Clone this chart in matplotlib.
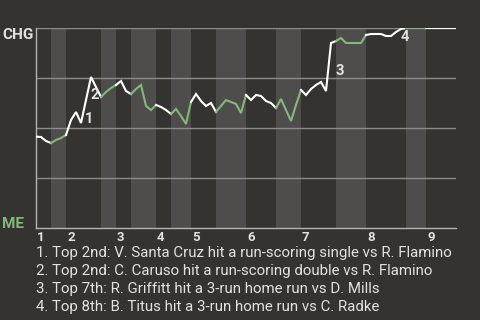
import matplotlib
matplotlib.use("Agg")
import matplotlib.pyplot as plt
import matplotlib.transforms as mtransforms
import numpy as np

plt.rcParams["font.family"] = ["Roboto", "DejaVu Sans"]

START_PROB = 0.457
# CHG win probability after each plate appearance, one list per half inning
top1 = [0.455, 0.435, 0.425]
bot1 = [0.44, 0.45, 0.465]
top2 = [0.54, 0.58, 0.525, 0.64, 0.755, 0.705, 0.655]
bot2 = [0.68, 0.70, 0.715]
top3 = [0.735, 0.685, 0.67]
bot3 = [0.695, 0.715, 0.61, 0.59, 0.615]
top4 = [0.605, 0.59, 0.57]
bot4 = [0.595, 0.56, 0.52, 0.63]
top5 = [0.67, 0.635, 0.61, 0.625, 0.58]
bot5 = [0.61, 0.64, 0.63, 0.62, 0.575, 0.665]
top6 = [0.64, 0.665, 0.66, 0.635, 0.625, 0.60]
bot6 = [0.645, 0.59, 0.535, 0.615, 0.69]
top7 = [0.665, 0.695, 0.715, 0.73, 0.685, 0.925, 0.935]
bot7 = [0.95, 0.925, 0.925, 0.925, 0.925, 0.965]
top8 = [0.97, 0.97, 0.97, 0.96, 0.96, 0.98, 0.995, 1.0]
bot8 = [1.0, 1.0, 1.0, 1.0]
top9 = [1.0, 1.0, 1.0, 1.0, 1.0, 1.0]
half_innings = [top1, bot1, top2, bot2, top3, bot3, top4, bot4, top5,
                bot5, top6, bot6, top7, bot7, top8, bot8, top9]

inning_labels = ["1", "2", "3", "4", "5", "6", "7", "8", "9"]
key_events = [10, 11, 60, 73]  # plate appearance index of each marked play
key_labels = ["1", "2", "3", "4"]
notes = [
    "1. Top 2nd: V. Santa Cruz hit a run-scoring single vs R. Flamino",
    "2. Top 2nd: C. Caruso hit a run-scoring double vs R. Flamino",
    "3. Top 7th: R. Griffitt hit a 3-run home run vs D. Mills",
    "4. Top 8th: B. Titus hit a 3-run home run vs C. Radke",
]

BG = "#353330"
STRIPE = "#4e4d4b"
GREEN = "#84b87b"
TEXT = "#e2e2e2"

sizes = [len(h) for h in half_innings]
bounds = np.concatenate([[0], np.cumsum(sizes)])
probs = np.concatenate([[START_PROB]] + [np.array(h) for h in half_innings])
xs = np.arange(len(probs))

fig = plt.figure(figsize=(4.8, 3.2), dpi=100, facecolor=BG)
ax = fig.add_axes([0.075, 0.2875, 0.875, 0.625])
ax.set_facecolor(BG)

for i in range(len(half_innings)):
    a, b = bounds[i], bounds[i + 1]
    if i % 2 == 1:
        ax.axvspan(a, b, color=STRIPE, lw=0, zorder=0)
    color = "white" if i % 2 == 0 else GREEN
    ax.plot(xs[a:b + 1], probs[a:b + 1], color=color, lw=1.5,
            solid_joinstyle="miter", zorder=3)

for y in [0.25, 0.5, 0.75, 1.0]:
    ax.axhline(y, color="#8c8b89", lw=1.0, zorder=1)

ax.set_xlim(0, bounds[-1])
ax.set_ylim(0, 1)
for side in ["top", "right"]:
    ax.spines[side].set_visible(False)
for side in ["left", "bottom"]:
    ax.spines[side].set_color("#b5b4b2")
    ax.spines[side].set_linewidth(1.0)
ax.set_xticks([])
ax.set_yticks([])

trans = mtransforms.blended_transform_factory(ax.transData, ax.transAxes)
for lab, start in zip(inning_labels, bounds[0::2]):
    ax.text(start + 0.2, -0.014, lab, transform=trans, ha="left", va="top",
            color=TEXT, fontsize=9.5, fontweight="bold")

offsets = [(2, -14), (2.5, -13), (2.5, -21.5), (2.5, -6)]
for lab, ev, off in zip(key_labels, key_events, offsets):
    ax.annotate(lab, xy=(xs[ev], probs[ev]), xytext=off,
                textcoords="offset points", ha="center", va="center",
                color=TEXT, fontsize=10.5, fontweight="bold", zorder=4)

fig.text(0.004, 0.892, "CHG", color=TEXT, fontsize=11, fontweight="bold",
         ha="left", va="center")
fig.text(0.004, 0.3, "ME", color=GREEN, fontsize=11, fontweight="bold",
         ha="left", va="center")

for i, line in enumerate(notes):
    fig.text(0.075, 1 - (253 + 18 * i) / 320, line, color=TEXT, fontsize=10.8,
             ha="left", va="center")

fig.savefig("out.png", dpi=100, facecolor=BG)
